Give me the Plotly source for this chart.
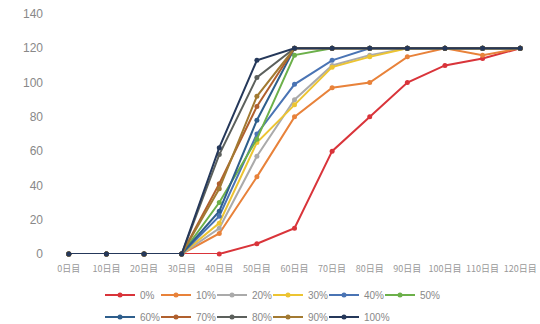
import plotly.graph_objects as go

# Elapsed days (category labels) and growth values per condition
days = ["0日目", "10日目", "20日目", "30日目", "40日目", "50日目", "60日目",
        "70日目", "80日目", "90日目", "100日目", "110日目", "120日目"]

s0 = [0, 0, 0, 0, 0, 6, 15, 60, 80, 100, 110, 114, 120]
s10 = [0, 0, 0, 0, 12, 45, 80, 97, 100, 115, 120, 116, 120]
s20 = [0, 0, 0, 0, 15, 57, 90, 110, 116, 120, 120, 120, 120]
s30 = [0, 0, 0, 0, 18, 65, 87, 109, 115, 120, 120, 120, 120]
s40 = [0, 0, 0, 0, 22, 70, 99, 113, 120, 120, 120, 120, 120]
s50 = [0, 0, 0, 0, 30, 67, 116, 120, 120, 120, 120, 120, 120]
s60 = [0, 0, 0, 0, 25, 78, 120, 120, 120, 120, 120, 120, 120]
s70 = [0, 0, 0, 0, 41, 86, 120, 120, 120, 120, 120, 120, 120]
s80 = [0, 0, 0, 0, 58, 103, 120, 120, 120, 120, 120, 120, 120]
s90 = [0, 0, 0, 0, 38, 92, 120, 120, 120, 120, 120, 120, 120]
s100 = [0, 0, 0, 0, 62, 113, 120, 120, 120, 120, 120, 120, 120]

series_names = ["0%", "10%", "20%", "30%", "40%", "50%",
                "60%", "70%", "80%", "90%", "100%"]
series_values = [s0, s10, s20, s30, s40, s50, s60, s70, s80, s90, s100]
colors = ["#d9343a", "#e8823a", "#aaaaaa", "#ecc432", "#4a74b4", "#6cb04a",
          "#2e5e8c", "#b0602e", "#5c605c", "#a27a32", "#25385a"]

# Two legend rows: first six entries, then the remaining five
legend_ids = ["legend"] * 6 + ["legend2"] * 5

fig = go.Figure()
for name, vals, col, lg in zip(series_names, series_values, colors, legend_ids):
    fig.add_trace(go.Scatter(
        x=days, y=vals, name=name, mode="lines+markers",
        line=dict(color=col, width=2),
        marker=dict(color=col, size=5),
        cliponaxis=False,
        legend=lg,
    ))

# Blank spacer entry closing each legend row so the last label is not clipped
for lg in ("legend", "legend2"):
    fig.add_trace(go.Scatter(
        x=[days[0]], y=[None], name=" ", mode="lines", showlegend=True,
        line=dict(color="rgba(0,0,0,0)"), hoverinfo="skip", legend=lg,
    ))

legend_common = dict(
    orientation="h", xref="container", yref="container",
    xanchor="left", yanchor="middle",
    font=dict(family="Liberation Sans, Arial", size=10, color="#888888"),
    bgcolor="rgba(0,0,0,0)", itemwidth=30,
    entrywidth=11, entrywidthmode="pixels",
    tracegroupgap=0, itemclick=False, itemdoubleclick=False,
)

x0 = 100
fig.update_layout(
    width=540, height=324,
    margin=dict(l=50, r=1, t=14, b=70, autoexpand=False),
    paper_bgcolor="white", plot_bgcolor="white",
    showlegend=True,
    legend=dict(legend_common, x=x0 / 540, y=1 - 295 / 324),
    legend2=dict(legend_common, x=x0 / 540, y=1 - 317 / 324),
    xaxis=dict(
        type="category", range=[-0.5, 12.5],
        showgrid=False, showline=False, zeroline=False,
        tickfont=dict(family="Noto Sans CJK JP", size=9, color="#999999"),
        ticks="", ticklabelstandoff=8,
    ),
    yaxis=dict(
        range=[0, 140], dtick=20, showgrid=False, showline=False,
        zeroline=False, ticks="",
        tickfont=dict(family="Liberation Sans, Arial", size=12, color="#888888"),
        ticklabelstandoff=6,
    ),
)

fig.write_html("out.html")
